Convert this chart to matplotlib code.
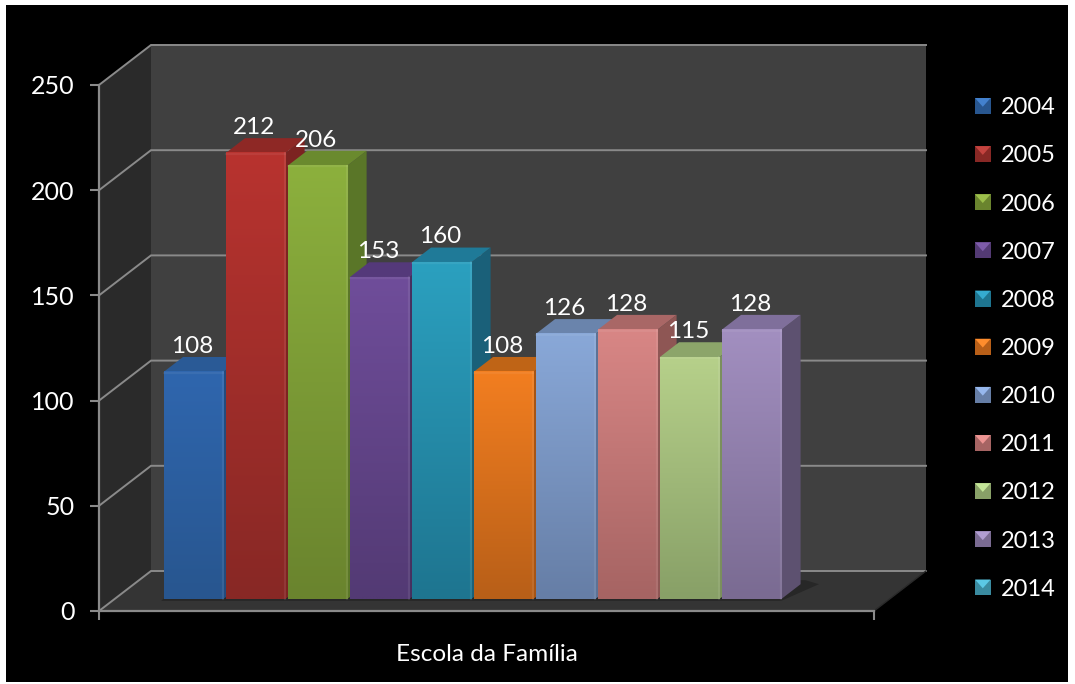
import numpy as np
import matplotlib
matplotlib.use("Agg")
import matplotlib.pyplot as plt
from matplotlib.patches import Rectangle, Polygon, Patch
from matplotlib.legend_handler import HandlerPatch
from matplotlib.transforms import offset_copy
from matplotlib.colors import to_rgb

years = ["2004", "2005", "2006", "2007", "2008", "2009", "2010", "2011", "2012", "2013", "2014"]
values = [108, 212, 206, 153, 160, 108, 126, 128, 115, 128, None]
category = "Escola da Família"
yticks = [0, 50, 100, 150, 200, 250]
top_colors = ["#2f66ae", "#b8332f", "#8cb03d", "#6f4d9a", "#2ba0bf", "#f27e20", "#89a8d8", "#d88685", "#b6d08a", "#a28fc0", "#4bacc6"]
bot_colors = ["#28568f", "#882825", "#6a842e", "#533a74", "#1e7590", "#b85f18", "#667ea6", "#a66463", "#88a067", "#7a6b92", "#3a8ba0"]
side_colors = ["#234a7c", "#7c2321", "#5a7628", "#46305f", "#1a6079", "#a65414", "#5c7296", "#8e5654", "#7a8f5c", "#5d5170", "#2f7385"]
roof_colors = ["#2a5a96", "#8e2825", "#6a8a2e", "#54397a", "#1f7a98", "#bf6416", "#6a84ac", "#a96766", "#8ca56a", "#7f6f9b", "#3a8ba0"]

plt.rcParams["font.family"] = ["Lato", "DejaVu Sans"]
W, H = 1075, 684
fig = plt.figure(figsize=(W / 100, H / 100), dpi=100, facecolor="white")
fig.add_artist(Rectangle((6 / W, 2 / H), 1062 / W, 677 / H, transform=fig.transFigure,
                         facecolor="black", edgecolor="none", zorder=-10))
ax = fig.add_axes([99 / W, (H - 611) / H, 775 / W, 526 / H], facecolor="none")
ax.set_autoscale_on(False)
X0, X1 = -1.25, 11.25
ax.set_xlim(X0, X1)
ax.set_ylim(0, 250)

GRID = "#8a8a8a"
# depth axis: one full depth unit moves the plane by 52 px right and 40 px up
PPX = 775 / (X1 - X0)
PPY = 526 / 250
DX, DY = 52 / PPX, 40 / PPY


def proj(x, y, d):
    return (x + d * DX, y + d * DY)


# walls and floor
ax.add_patch(Polygon([proj(X0, 0, 1), proj(X1, 0, 1), proj(X1, 250, 1), proj(X0, 250, 1)],
                     facecolor="#404040", edgecolor="none", clip_on=False, zorder=1))
ax.add_patch(Polygon([proj(X0, 0, 0), proj(X0, 0, 1), proj(X0, 250, 1), proj(X0, 250, 0)],
                     facecolor="#2a2a2a", edgecolor="none", clip_on=False, zorder=1))
ax.add_patch(Polygon([proj(X0, 0, 0), proj(X1, 0, 0), proj(X1, 0, 1), proj(X0, 0, 1)],
                     facecolor="#343434", edgecolor="none", clip_on=False, zorder=1))
for t in yticks:
    pts = [proj(X0, t, 0), proj(X0, t, 1), proj(X1, t, 1)]
    ax.plot(*zip(*pts), color=GRID, lw=1.4, clip_on=False, zorder=2, solid_joinstyle="miter")
a, b = proj(X1, 0, 0), proj(X1, 0, 1)
ax.plot([a[0], b[0]], [a[1], b[1]], color="#2a2a2a", lw=1, clip_on=False, zorder=2)

# bars sit in the slab between these depths
D_FRONT, D_BACK = 0.3, 0.67
WIDTH = 0.96
tr_front = offset_copy(ax.transData, fig=fig, x=D_FRONT * 52 + 1.5, y=D_FRONT * 40, units="dots")
depth = D_BACK - D_FRONT

# shadow of the bars on the floor
shadow_vals = [v for v in values if v is not None]
last = len(shadow_vals) - 1
ax.add_patch(Polygon([proj(-0.5, -0.9, D_FRONT), proj(last + 0.5, -0.9, D_FRONT),
                      proj(last + 0.8, 0, D_BACK), proj(last + 0.5, 0, D_BACK + 0.1),
                      proj(-0.5, 0, D_BACK)],
                     facecolor="#272727", edgecolor="none", clip_on=False, zorder=2.5))

# front faces from the bar scale, sides and tops in depth, gradient on top
bars = ax.bar(range(len(values)), [0 if v is None else v for v in values], width=WIDTH,
              color=top_colors, transform=tr_front, zorder=3, clip_on=False)
for i, (v, rect) in enumerate(zip(values, bars)):
    if v is None:
        rect.set_visible(False)
        continue
    z = 3 + i * 0.1
    rect.set_zorder(z)
    l, r = i - WIDTH / 2, i + WIDTH / 2
    side = Polygon([(r, 0), (r + depth * DX, depth * DY), (r + depth * DX, v + depth * DY), (r, v)],
                   facecolor=side_colors[i], edgecolor="none", transform=tr_front, zorder=z - 0.02, clip_on=False)
    roof = Polygon([(l, v), (r, v), (r + depth * DX, v + depth * DY), (l + depth * DX, v + depth * DY)],
                   facecolor=roof_colors[i], edgecolor="none", transform=tr_front, zorder=z - 0.02, clip_on=False)
    ax.add_patch(side)
    ax.add_patch(roof)
    c0, c1 = np.array(to_rgb(top_colors[i])), np.array(to_rgb(bot_colors[i]))
    ramp = np.linspace(0, 1, 64)[:, None, None]
    img = c0[None, None, :] * (1 - ramp) + c1[None, None, :] * ramp
    im = ax.imshow(img, extent=(l, r, 0, v), origin="upper", aspect="auto", interpolation="bilinear",
                   transform=tr_front, zorder=z + 0.01, clip_on=False)
    ax.plot([r - 0.012, r - 0.012], [0, v], color="white", alpha=0.08, lw=1.6, transform=tr_front,
            zorder=z + 0.02, clip_on=False)
    ax.plot([l, r], [v - 0.4, v - 0.4], color="white", alpha=0.06, lw=1.6, transform=tr_front,
            zorder=z + 0.02, clip_on=False)

for i, v in enumerate(values):
    if v is None:
        continue
    ax.annotate(str(v), xy=(i, v), xycoords=tr_front, xytext=(-1, 25.5 * 0.72), textcoords="offset points",
                ha="center", va="center", color="white", fontsize=17.5, zorder=20, annotation_clip=False)

ax.set_xlim(X0, X1)
ax.set_ylim(0, 250)

# axes
for s in ("top", "right"):
    ax.spines[s].set_visible(False)
for s in ("left", "bottom"):
    ax.spines[s].set_color(GRID)
    ax.spines[s].set_linewidth(1.6)
    ax.spines[s].set_zorder(15)
ax.set_yticks(yticks)
ax.set_xticks([X0, X1])
ax.set_xticklabels(["", ""])
ax.set_xticks([(X0 + X1) / 2], [category], minor=True)
ax.tick_params(axis="y", which="major", length=6.5, width=1.5, color=GRID, labelcolor="white",
               labelsize=18, pad=11)
ax.tick_params(axis="x", which="major", length=6.5, width=1.5, color=GRID)
ax.tick_params(axis="x", which="minor", length=0, labelcolor="white", labelsize=17.6, pad=24)


class BevelHandler(HandlerPatch):
    def create_artists(self, legend, orig, xd, yd, w, h, fs, trans):
        base = Rectangle((-xd, -yd), w, h, facecolor=orig.get_facecolor(), edgecolor="none", transform=trans)
        light = np.clip(np.array(orig.get_facecolor()[:3]) * 1.35 + 0.05, 0, 1)
        top = Polygon([(-xd, h - yd), (w - xd, h - yd), (w / 2 - xd, h * 0.45 - yd)],
                      facecolor=light, edgecolor="none", transform=trans)
        return [base, top]


handles = [Patch(facecolor=bot_colors[i], label=y) for i, y in enumerate(years)]
leg = fig.legend(handles=handles, loc="center left", bbox_to_anchor=(975 / W, 1 - 348.5 / H),
                 frameon=False, fontsize=17, labelcolor="white", labelspacing=1.15,
                 handlelength=0.66, handleheight=0.66, handletextpad=0.45, borderpad=0, borderaxespad=0,
                 handler_map={Patch: BevelHandler()})

fig.savefig("out.png", dpi=100, facecolor="white")
